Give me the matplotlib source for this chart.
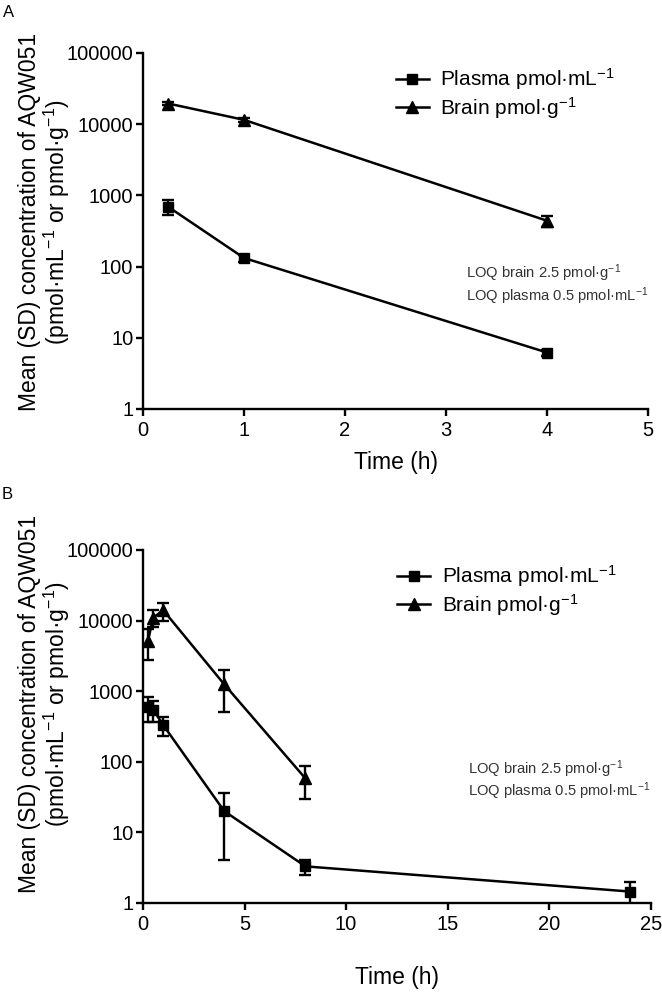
import matplotlib
matplotlib.use("Agg")
import matplotlib.pyplot as plt
from matplotlib.ticker import FixedLocator, NullLocator

plt.rcParams['font.family'] = ['Liberation Sans', 'DejaVu Sans']
plt.rcParams['mathtext.fontset'] = 'custom'
plt.rcParams['mathtext.rm'] = 'Liberation Sans'
plt.rcParams['mathtext.it'] = 'Liberation Sans'

# panel A data
time_a = [0.25, 1, 4]
plasma_a = [690, 132, 6.2]
plasma_sd_a = [160, 15, 0.6]
brain_a = [19500, 11500, 440]
brain_sd_a = [1200, 900, 80]

# panel B data
time_plasma_b = [0.25, 0.5, 1, 4, 8, 24]
plasma_b = [600, 550, 330, 20, 3.3, 1.45]
plasma_sd_b = [230, 180, 100, 16, 0.8, 0.5]
time_brain_b = [0.25, 0.5, 1, 4, 8]
brain_b = [5200, 11000, 14000, 1250, 58]
brain_sd_b = [2400, 3000, 4000, 750, 28]

yticks = [1, 10, 100, 1000, 10000, 100000]
ytick_labels = ['1', '10', '100', '1000', '10000', '100000']

ylabel = 'Mean (SD) concentration of AQW051\n(pmol·mL$^{-1}$ or pmol·g$^{-1}$)'
plasma_label = 'Plasma pmol·mL$^{-1}$'
brain_label = 'Brain pmol·g$^{-1}$'
loq_brain = 'LOQ brain 2.5 pmol·g$^{-1}$'
loq_plasma = 'LOQ plasma 0.5 pmol·mL$^{-1}$'


def draw_panel(ax, t_pl, pl, pl_sd, t_br, br, br_sd, xmax, xstep, xlab_y, ylab_y):
    kw = dict(color='black', elinewidth=1.7, capsize=4, capthick=1.7)
    ax.errorbar(t_pl, pl, yerr=pl_sd, fmt='none', **kw)
    ax.errorbar(t_br, br, yerr=br_sd, fmt='none', **kw)
    ax.plot(t_pl, pl, color='black', lw=1.8, marker='s', ms=7.5, label=plasma_label)
    ax.plot(t_br, br, color='black', lw=1.8, marker='^', ms=8.5, label=brain_label)
    ax.set_yscale('log')
    ax.set_ylim(1, 100000)
    ax.set_xlim(0, xmax)
    ax.yaxis.set_major_locator(FixedLocator(yticks))
    ax.set_yticklabels(ytick_labels)
    ax.yaxis.set_minor_locator(NullLocator())
    ax.set_xticks(range(0, xmax + 1, xstep))
    for s in ['top', 'right']:
        ax.spines[s].set_visible(False)
    for s in ['left', 'bottom']:
        ax.spines[s].set_linewidth(1.7)
    ax.tick_params(width=1.7, length=5, labelsize=14.5)
    ax.tick_params(axis='x', pad=4)
    ax.tick_params(axis='y', pad=2)
    ax.set_xlabel('Time (h)', fontsize=16.5)
    ax.xaxis.set_label_coords(0.5, xlab_y)
    ax.set_ylabel(ylabel, fontsize=16.5, linespacing=1.05)
    ax.yaxis.set_label_coords(-0.14, ylab_y)
    ax.legend(loc='upper left', bbox_to_anchor=(0.5, 0.962), frameon=False,
              fontsize=15, handlelength=1.6, handletextpad=0.55,
              borderpad=0, borderaxespad=0, labelspacing=0.12)
    ax.text(0.64, 0.38, loq_brain, transform=ax.transAxes, fontsize=10.6,
            color='#333333', ha='left', va='center')
    ax.text(0.64, 0.318, loq_plasma, transform=ax.transAxes, fontsize=10.6,
            color='#333333', ha='left', va='center')


fig = plt.figure(figsize=(6.62, 9.96), dpi=100)
ax_a = fig.add_axes([0.216, 0.5894, 0.763, 0.3574])
ax_b = fig.add_axes([0.216, 0.0934, 0.767, 0.3544])

draw_panel(ax_a, time_a, plasma_a, plasma_sd_a, time_a, brain_a, brain_sd_a, 5, 1, -0.118, 0.525)
draw_panel(ax_b, time_plasma_b, plasma_b, plasma_sd_b, time_brain_b, brain_b, brain_sd_b, 25, 5, -0.178, 0.564)

fig.text(0.004, 0.987, 'A', fontsize=12, ha='left', va='center')
fig.text(0.003, 0.504, 'B', fontsize=12, ha='left', va='center')

fig.savefig('out.png', dpi=100)
